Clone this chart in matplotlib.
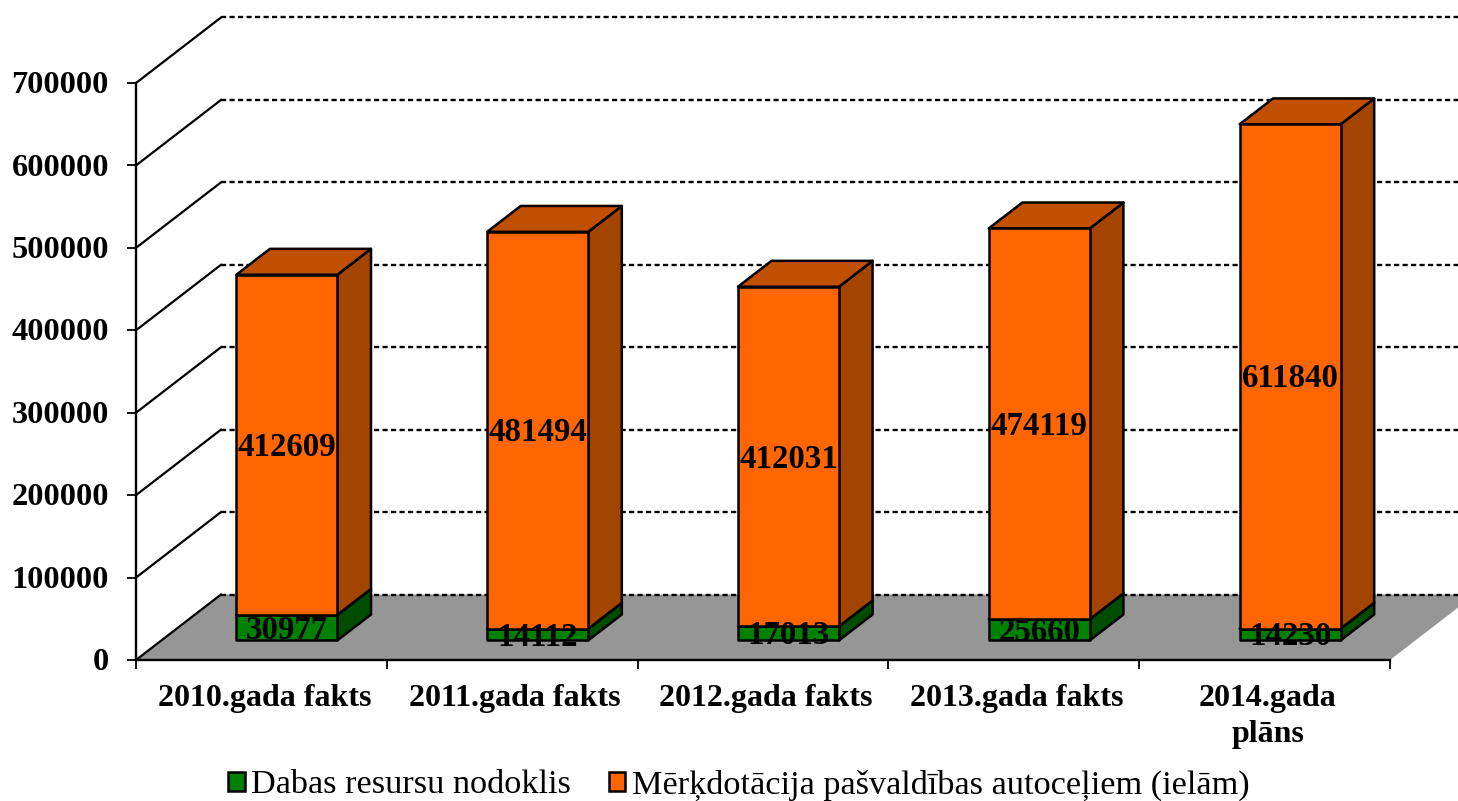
import matplotlib
matplotlib.use("Agg")
import matplotlib.pyplot as plt
from matplotlib.patches import Polygon, Rectangle
from matplotlib.transforms import ScaledTranslation

categories = ["2010.gada fakts", "2011.gada fakts", "2012.gada fakts", "2013.gada fakts", "2014.gada\nplāns"]
resursu = [30977, 14112, 17013, 25660, 14230]
merkdotacija = [412609, 481494, 412031, 474119, 611840]
y_ticks = [0, 100000, 200000, 300000, 400000, 500000, 600000, 700000]
series_names = ["Dabas resursu nodoklis", "Mērķdotācija pašvaldības autoceļiem (ielām)"]

W, H = 1458, 801
plt.rcParams["font.family"] = ["Liberation Serif", "DejaVu Serif"]
fig = plt.figure(figsize=(W / 100, H / 100), dpi=100)
L, R, T, B = 136, 1390, 83, 660
ax = fig.add_axes([L / W, 1 - B / H, (R - L) / W, (B - T) / H])
ax.set_xlim(0, len(categories))
ax.set_ylim(0, 700000)

# oblique projection: depth 0 = front plane, depth 1 = back wall
DX = 85 / ((R - L) / 5)
DY = 65.5 / ((B - T) / 7) * 100000


def proj(x, y, d):
    return (x + d * DX, y + d * DY)


def poly(points, color, z, lw=1.8):
    ax.add_patch(Polygon(points, closed=True, facecolor=color, edgecolor="black",
                         linewidth=lw, joinstyle="round", clip_on=False, zorder=z))


# floor
ax.add_patch(Polygon([proj(0, 0, 0), proj(5, 0, 0), proj(5, 0, 1), proj(0, 0, 1)], closed=True,
                     facecolor="#969696", edgecolor="none", clip_on=False, zorder=1))

# gridlines on the wall plus the diagonals on the side
for v in y_ticks:
    p0, p1, p2 = proj(0, v, 0), proj(0, v, 1), proj(5, v, 1)
    ax.plot([p0[0], p1[0]], [p0[1], p1[1]], color="black", lw=1.6, clip_on=False, zorder=2)
    ax.plot([p1[0], p2[0]], [p1[1], p2[1]], color="black", lw=1.7,
            ls=(0, (2.2, 1.4)), clip_on=False, zorder=2)

# 3D bars
BAR_W = 0.403
D0, D1 = 0.30, 0.695
FACES = {"#008000": ("#008000", "#006000", "#004D00"), "#FF6600": ("#FF6600", "#C04F00", "#A34500")}
for i in range(len(categories)):
    x0 = i + 0.5 - BAR_W / 2
    x1 = x0 + BAR_W
    base = 0
    for vals, col in ((resursu, "#008000"), (merkdotacija, "#FF6600")):
        top = base + vals[i]
        front, topc, side = FACES[col]
        poly([proj(x1, base, D0), proj(x1, top, D0), proj(x1, top, D1), proj(x1, base, D1)], side, 3)
        poly([proj(x0, top, D0), proj(x1, top, D0), proj(x1, top, D1), proj(x0, top, D1)], topc, 3)
        poly([proj(x0, base, D0), proj(x1, base, D0), proj(x1, top, D0), proj(x0, top, D0)], front, 4)
        cx, cy = proj(i + 0.5, base + vals[i] / 2, D0)
        ax.annotate(str(vals[i]), (cx, cy), xytext=(0, -1.8), textcoords="offset points",
                    ha="center", va="center", fontsize=23.7, fontweight="bold",
                    color="black", zorder=6, annotation_clip=False)
        base = top

# axes
for s in ("top", "right"):
    ax.spines[s].set_visible(False)
ax.patch.set_visible(False)
for s in ("left", "bottom"):
    ax.spines[s].set_linewidth(1.7)
    ax.spines[s].set_zorder(5)
ax.set_yticks(y_ticks)
ax.set_yticklabels([str(v) for v in y_ticks], fontsize=23.3, fontweight="bold")
ax.tick_params(axis="y", length=6.5, width=1.3, pad=13)
ax.set_xticks(range(len(categories) + 1))
ax.set_xticklabels([])
ax.tick_params(axis="x", which="major", length=6.5, width=1.3)
ax.set_xticks([i + 0.5 for i in range(len(categories))], minor=True)
ax.set_xticklabels(categories, minor=True, fontsize=23, fontweight="bold", linespacing=1.31, va="top")
ax.tick_params(axis="x", which="minor", length=0, pad=17.5)

shift_y = ScaledTranslation(0, 0.6 / 72, fig.dpi_scale_trans)
for lab in ax.get_yticklabels():
    lab.set_transform(lab.get_transform() + shift_y)
shift_x = ScaledTranslation(3 / 100, 0, fig.dpi_scale_trans)
for lab in ax.get_xticklabels(minor=True):
    lab.set_transform(lab.get_transform() + shift_x)

# legend
handles = [Rectangle((0, 0), 1, 1, facecolor="#008000", edgecolor="black", linewidth=1.8),
           Rectangle((0, 0), 1, 1, facecolor="#FF6600", edgecolor="black", linewidth=1.8)]
fig.legend(handles, series_names, ncol=2, loc="center", bbox_to_anchor=(739 / W, 1 - 785 / H),
           frameon=False, fontsize=24.7, handlelength=0.48, handleheight=0.48, handletextpad=0.2,
           columnspacing=1.1, borderpad=0, borderaxespad=0)

fig.savefig("out.png", dpi=100, facecolor="white")
